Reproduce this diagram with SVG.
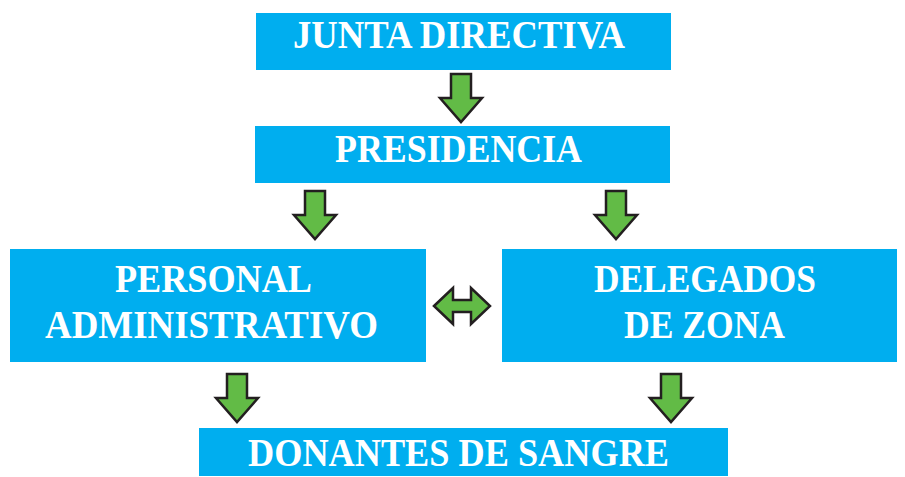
<svg xmlns="http://www.w3.org/2000/svg" xmlns:xlink="http://www.w3.org/1999/xlink" width="905" height="477" viewBox="0 0 905 477">
<style>
.box{fill:#00AEEF}
.t{font-family:"Liberation Serif","Times New Roman",serif;font-weight:bold;font-size:41px;fill:#FFFFFF}
.arr{fill:#62BB46;stroke:#231F20;stroke-width:2.5;stroke-linejoin:miter}
</style>
<defs>
<path id="down" d="M-10,0 H10 V24 H21 L0,48 L-21,24 H-10 Z"/>
</defs>
<rect width="905" height="477" fill="#FFFFFF"/>
<g id="junta"><rect class="box" x="256" y="13" width="415" height="57"/><text class="t" x="293" y="48" textLength="332" lengthAdjust="spacingAndGlyphs">JUNTA DIRECTIVA</text></g>
<g id="presidencia"><rect class="box" x="255" y="126" width="415" height="57"/><text class="t" x="335" y="162" textLength="247" lengthAdjust="spacingAndGlyphs">PRESIDENCIA</text></g>
<g id="personal"><rect class="box" x="10" y="249" width="416" height="113"/><text class="t" x="115" y="292" textLength="197" lengthAdjust="spacingAndGlyphs">PERSONAL</text><text class="t" x="45" y="338" textLength="333" lengthAdjust="spacingAndGlyphs">ADMINISTRATIVO</text></g>
<g id="delegados"><rect class="box" x="502" y="249" width="395" height="113"/><text class="t" x="594" y="292" textLength="222" lengthAdjust="spacingAndGlyphs">DELEGADOS</text><text class="t" x="624" y="338" textLength="161" lengthAdjust="spacingAndGlyphs">DE ZONA</text></g>
<g id="donantes"><rect class="box" x="199" y="428" width="529" height="48"/><text class="t" x="248" y="466" textLength="421" lengthAdjust="spacingAndGlyphs">DONANTES DE SANGRE</text></g>
<g id="connectors">
<use xlink:href="#down" class="arr" transform="translate(461,74)"/>
<use xlink:href="#down" class="arr" transform="translate(315,191)"/>
<use xlink:href="#down" class="arr" transform="translate(616,191)"/>
<use xlink:href="#down" class="arr" transform="translate(237,374)"/>
<use xlink:href="#down" class="arr" transform="translate(671,374)"/>
<path class="arr" d="M434,306 L453,288 V300 H471 V288 L490,306 L471,324 V312 H453 V324 Z"/>
</g>
</svg>
